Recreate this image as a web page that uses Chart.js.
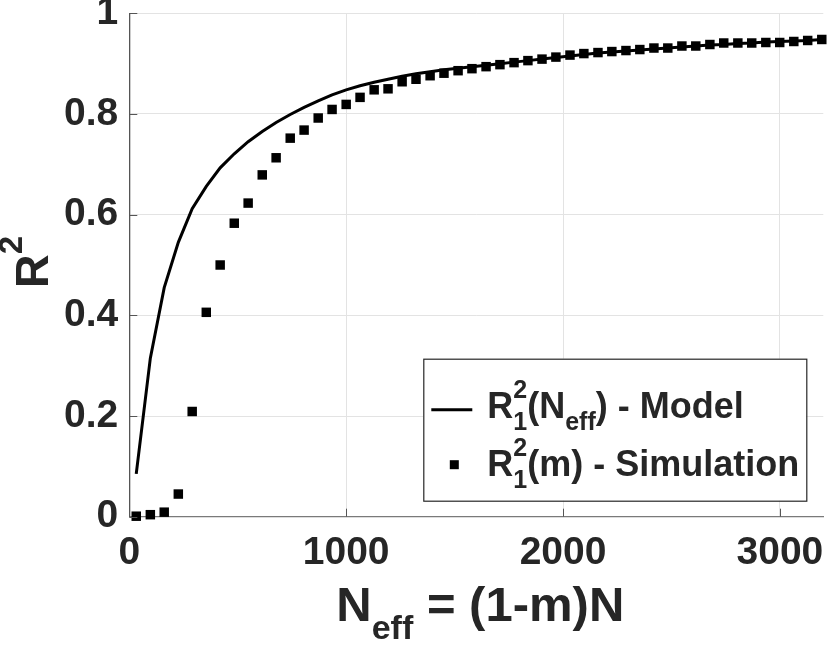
<!DOCTYPE html>
<html lang="en">
<head>
    <meta charset="UTF-8">
    <title>R2 vs Neff</title>
    <script src="https://cdn.jsdelivr.net/npm/chart.js"></script>
    <style>
        body { margin: 0; background: #fff; }
        #chart { display: block; }
    </style>
</head>
<body>
    <canvas id="chart" width="830" height="645"></canvas>

    <script>
        // Data
        const nEff = [32, 97, 161, 226, 290, 355, 419, 484, 548, 613,
                      677, 742, 806, 871, 935, 1000, 1064, 1129, 1193, 1258,
                      1322, 1387, 1451, 1516, 1580, 1645, 1709, 1774, 1838, 1903,
                      1967, 2032, 2096, 2161, 2225, 2290, 2354, 2419, 2483, 2548,
                      2612, 2677, 2741, 2806, 2870, 2935, 2999, 3064, 3128, 3193];

        const r2Model = [0.085, 0.315, 0.455, 0.545, 0.612, 0.656, 0.693, 0.721, 0.745, 0.765,
                         0.783, 0.799, 0.813, 0.826, 0.838, 0.848, 0.856, 0.863, 0.869, 0.875,
                         0.880, 0.884, 0.888, 0.891, 0.894, 0.897, 0.900, 0.903, 0.906, 0.909,
                         0.912, 0.915, 0.918, 0.921, 0.923, 0.925, 0.927, 0.929, 0.931, 0.933,
                         0.935, 0.937, 0.938, 0.940, 0.941, 0.943, 0.944, 0.945, 0.946, 0.948];

        const r2Sim = [0.001, 0.004, 0.009, 0.045, 0.209, 0.406, 0.500, 0.583, 0.623, 0.679,
                       0.713, 0.752, 0.768, 0.792, 0.809, 0.819, 0.833, 0.848, 0.850, 0.864,
                       0.869, 0.876, 0.881, 0.886, 0.890, 0.894, 0.898, 0.902, 0.906, 0.909,
                       0.913, 0.917, 0.920, 0.922, 0.924, 0.926, 0.928, 0.931, 0.931, 0.935,
                       0.935, 0.938, 0.941, 0.941, 0.941, 0.942, 0.942, 0.944, 0.946, 0.948];

        const xTickValues = [0, 1000, 2000, 3000];
        const yTickValues = [0, 0.2, 0.4, 0.6, 0.8, 1];

        // Text pieces with sub/superscripts
        const xTitle = [{ t: 'N' }, { sub: 'eff' }, { t: ' = (1-m)N' }];
        const yTitle = [{ t: 'R' }, { sup: '2' }];
        const legendModel = [{ t: 'R' }, { sup: '2', sub: '1' }, { t: '(N' }, { sub: 'eff' }, { t: ') - Model' }];
        const legendSim = [{ t: 'R' }, { sup: '2', sub: '1' }, { t: '(m) - Simulation' }];

        const FAMILY = "'Liberation Sans', Arial, Helvetica, sans-serif";
        const TEXT = '#262626';

        function font(size) { return 'bold ' + size + 'px ' + FAMILY; }

        function partWidth(ctx, p, big, small) {
            if (p.t) { ctx.font = font(big); return ctx.measureText(p.t).width; }
            ctx.font = font(small);
            let w = 0;
            if (p.sup) w = Math.max(w, ctx.measureText(p.sup).width);
            if (p.sub) w = Math.max(w, ctx.measureText(p.sub).width);
            return w;
        }

        // draw text pieces starting at x, baseline y
        function drawRich(ctx, parts, x, y, big, small, align, subDrop) {
            let total = 0;
            parts.forEach(p => total += partWidth(ctx, p, big, small));
            let cx = align === 'center' ? x - total / 2 : x;
            ctx.fillStyle = TEXT;
            ctx.textAlign = 'left';
            ctx.textBaseline = 'alphabetic';
            parts.forEach(p => {
                const w = partWidth(ctx, p, big, small);
                if (p.t) {
                    ctx.font = font(big);
                    ctx.fillText(p.t, cx, y);
                } else {
                    ctx.font = font(small);
                    if (p.sup) ctx.fillText(p.sup, cx, y - big * 0.55);
                    if (p.sub) ctx.fillText(p.sub, cx, y + big * (subDrop || 0.33));
                }
                cx += w;
            });
        }

        const decorations = {
            id: 'decorations',
            afterDraw(chart) {
                const ctx = chart.ctx;
                const a = chart.chartArea;
                const xs = chart.scales.x, ys = chart.scales.y;
                ctx.save();

                // inward tick marks
                ctx.strokeStyle = '#555';
                ctx.lineWidth = 1;
                ctx.beginPath();
                xTickValues.forEach(v => {
                    const px = Math.round(xs.getPixelForValue(v)) + 0.5;
                    ctx.moveTo(px, a.bottom);
                    ctx.lineTo(px, a.bottom - 8);
                });
                yTickValues.forEach(v => {
                    const py = Math.round(ys.getPixelForValue(v)) + 0.5;
                    ctx.moveTo(a.left, py);
                    ctx.lineTo(a.left + 8, py);
                });
                ctx.stroke();

                // x axis title
                drawRich(ctx, xTitle, (a.left + a.right) / 2 + 4, a.bottom + 104, 49, 34, 'center', 0.38);

                // y axis title, rotated
                ctx.save();
                ctx.translate(48, (a.top + a.bottom) / 2 - 3);
                ctx.rotate(-Math.PI / 2);
                drawRich(ctx, yTitle, 0, 0, 47, 33, 'center');
                ctx.restore();

                // legend box
                const bx = a.right - 400, by = a.bottom - 158, bw = 383, bh = 142;
                ctx.fillStyle = '#fff';
                ctx.fillRect(bx, by, bw, bh);
                ctx.strokeStyle = '#262626';
                ctx.lineWidth = 1.2;
                ctx.strokeRect(bx + 0.5, by + 0.5, bw, bh);

                // model entry
                ctx.strokeStyle = '#000';
                ctx.lineWidth = 3;
                ctx.beginPath();
                ctx.moveTo(bx + 8, by + 51);
                ctx.lineTo(bx + 49, by + 51);
                ctx.stroke();
                drawRich(ctx, legendModel, bx + 64, by + 59, 36, 25, 'left');

                // simulation entry
                ctx.fillStyle = '#000';
                ctx.fillRect(bx + 31 - 4.5, by + 106 - 4.5, 9, 9);
                drawRich(ctx, legendSim, bx + 64, by + 117, 36, 25, 'left');

                ctx.restore();
            }
        };

        const ctx = document.getElementById('chart').getContext('2d');
        const chart = new Chart(ctx, {
            type: 'scatter',
            data: {
                datasets: [{
                    label: 'Model',
                    data: nEff.map((n, i) => ({ x: n, y: r2Model[i] })),
                    showLine: true,
                    borderColor: '#000',
                    borderWidth: 3,
                    pointRadius: 0,
                    tension: 0,
                    clip: false,
                    order: 2
                }, {
                    label: 'Simulation',
                    data: nEff.map((n, i) => ({ x: n, y: r2Sim[i] })),
                    showLine: false,
                    pointStyle: 'rect',
                    pointRadius: 6.7,
                    backgroundColor: '#000',
                    borderWidth: 0,
                    clip: false,
                    order: 1
                }]
            },
            options: {
                responsive: false,
                animation: false,
                devicePixelRatio: 1,
                layout: { padding: { top: 13.3, right: 6.3, left: 0, bottom: 0 } },
                plugins: {
                    legend: { display: false },
                    tooltip: { enabled: false }
                },
                scales: {
                    x: {
                        type: 'linear',
                        min: 0,
                        max: 3200,
                        afterBuildTicks: s => { s.ticks = xTickValues.map(v => ({ value: v })); },
                        afterFit: s => { s.height = 128.3; s.paddingLeft = 0; s.paddingRight = 0; },
                        ticks: {
                            font: { family: FAMILY, size: 39, weight: 'bold' },
                            color: TEXT,
                            padding: 13,
                            maxRotation: 0,
                            callback: v => String(v)
                        },
                        grid: { color: '#e3e3e3', drawTicks: false },
                        border: { display: true, color: '#7a7a7a', width: 1.3 }
                    },
                    y: {
                        type: 'linear',
                        min: 0,
                        max: 1,
                        afterBuildTicks: s => { s.ticks = yTickValues.map(v => ({ value: v })); },
                        afterFit: s => { s.width = 129.3; s.paddingTop = 0; s.paddingBottom = 0; },
                        ticks: {
                            font: { family: FAMILY, size: 39, weight: 'bold' },
                            color: TEXT,
                            padding: 11,
                            callback: v => String(v)
                        },
                        grid: { color: '#e3e3e3', drawTicks: false },
                        border: { display: true, color: '#555', width: 1.3 }
                    }
                }
            },
            plugins: [decorations]
        });
    </script>
</body>
</html>
